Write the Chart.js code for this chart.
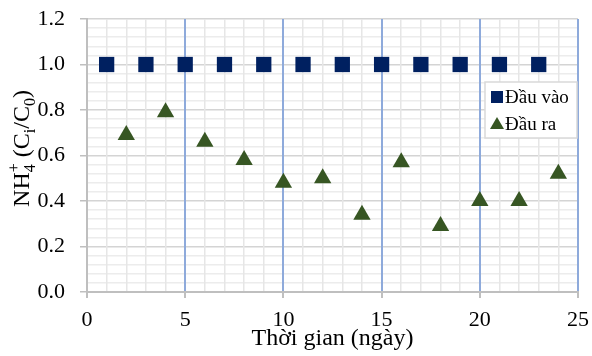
<!DOCTYPE html>
<html>
<head>
<meta charset="utf-8">
<script src="https://cdn.jsdelivr.net/npm/chart.js@4.4.1/dist/chart.umd.min.js"></script>
<style>
  html, body { margin: 0; padding: 0; background: #fff; }
  #wrap { width: 592px; height: 356px; }
</style>
</head>
<body>
<div id="wrap"><canvas id="chart"></canvas></div>
<script>
// NH4+ ratio over time, inlet vs outlet

const inputDays = [1, 3, 5, 7, 9, 11, 13, 15, 17, 19, 21, 23];
const inputValues = [1.0, 1.0, 1.0, 1.0, 1.0, 1.0, 1.0, 1.0, 1.0, 1.0, 1.0, 1.0];
const outputDays = [2, 4, 6, 8, 10, 12, 14, 16, 18, 20, 22, 24];
const outputValues = [0.69, 0.79, 0.66, 0.58, 0.48, 0.50, 0.34, 0.57, 0.29, 0.40, 0.40, 0.52];
const xTickLabels = [0, 5, 10, 15, 20, 25];
const yTickLabels = [0.0, 0.2, 0.4, 0.6, 0.8, 1.0, 1.2];
const seriesNames = ['Đầu vào', 'Đầu ra'];
const xTitle = 'Thời gian (ngày)';

const FONT = "'Liberation Serif', 'Times New Roman', serif";
const NAVY = '#002060';
const GREEN = '#375623';

const isMajorX = v => xTickLabels.includes(Math.round(v));
const isMajorY = v => yTickLabels.some(t => Math.abs(t - v) < 1e-6);

// y title with sub/superscripts: NH4+ (Ci/C0)
const yTitleParts = [
  { t: 'NH', size: 24 },
  { t: '4', size: 16, dy: 6, stackWith: '+' },
  { t: ' (C', size: 24 },
  { t: 'i', size: 16, dy: 6 },
  { t: '/C', size: 24 },
  { t: '0', size: 16, dy: 6 },
  { t: ')', size: 24 }
];

const yTitlePlugin = {
  id: 'yTitle',
  afterDraw(chart) {
    const ctx = chart.ctx;
    const area = chart.chartArea;
    ctx.save();
    ctx.fillStyle = '#000';
    ctx.textBaseline = 'alphabetic';
    ctx.textAlign = 'left';
    let total = 0;
    yTitleParts.forEach(p => {
      ctx.font = p.size + 'px ' + FONT;
      let w = ctx.measureText(p.t).width;
      if (p.stackWith) w = Math.max(w, ctx.measureText(p.stackWith).width);
      p.w = w;
      total += w;
    });
    ctx.translate(29, (area.top + area.bottom) / 2 - 7);
    ctx.rotate(-Math.PI / 2);
    let x = -total / 2;
    yTitleParts.forEach(p => {
      ctx.font = p.size + 'px ' + FONT;
      ctx.fillText(p.t, x, p.dy || 0);
      if (p.stackWith) ctx.fillText(p.stackWith, x, -10);
      x += p.w;
    });
    ctx.restore();
  }
};

const legendPlugin = {
  id: 'boxLegend',
  afterDraw(chart) {
    const ctx = chart.ctx;
    const area = chart.chartArea;
    const right = area.right - 1;
    const left = right - 92;
    const top = area.top + 63;
    const h = 56;
    ctx.save();
    ctx.fillStyle = '#fff';
    ctx.fillRect(left, top, right - left, h);
    ctx.strokeStyle = '#d9d9d9';
    ctx.lineWidth = 1.5;
    ctx.strokeRect(left, top, right - left, h);
    ctx.font = '19px ' + FONT;
    ctx.textBaseline = 'middle';
    ctx.textAlign = 'left';
    chart.data.datasets.forEach((ds, i) => {
      const cy = top + 15 + i * 27;
      const cx = left + 12;
      ctx.fillStyle = ds.backgroundColor;
      if (ds.pointStyle === 'rect') {
        ctx.fillRect(cx - 6, cy - 6, 12, 12);
      } else {
        ctx.beginPath();
        ctx.moveTo(cx, cy - 7);
        ctx.lineTo(cx + 7, cy + 5);
        ctx.lineTo(cx - 7, cy + 5);
        ctx.closePath();
        ctx.fill();
      }
      ctx.fillStyle = '#000';
      ctx.fillText(ds.label, cx + 8, cy + 1);
    });
    ctx.restore();
  }
};

const noScalePadding = s => {
  s.paddingTop = 0;
  s.paddingBottom = 0;
  s.paddingLeft = 0;
  s.paddingRight = 0;
};

new Chart(document.getElementById('chart'), {
  type: 'scatter',
  data: {
    datasets: [
      {
        label: seriesNames[0],
        data: inputDays.map((d, i) => ({ x: d, y: inputValues[i] })),
        pointStyle: 'rect',
        pointRadius: 10.8,
        pointHoverRadius: 10.8,
        backgroundColor: NAVY,
        borderColor: NAVY,
        borderWidth: 0
      },
      {
        label: seriesNames[1],
        data: outputDays.map((d, i) => ({ x: d, y: outputValues[i] })),
        pointStyle: 'triangle',
        pointRadius: 10,
        pointHoverRadius: 10,
        backgroundColor: GREEN,
        borderColor: GREEN,
        borderWidth: 0
      }
    ]
  },
  options: {
    responsive: true,
    maintainAspectRatio: false,
    animation: false,
    events: [],
    layout: { padding: { top: 19, right: 14, left: 0, bottom: 0 } },
    plugins: {
      legend: { display: false },
      tooltip: { enabled: false }
    },
    scales: {
      x: {
        type: 'linear',
        min: 0,
        max: 25,
        afterBuildTicks: s => {
          const t = [];
          for (let v = 0; v <= 25; v++) t.push({ value: v });
          s.ticks = t;
        },
        afterFit: s => { s.height = 64; noScalePadding(s); },
        ticks: {
          autoSkip: false,
          maxRotation: 0,
          padding: 9,
          color: '#000',
          font: { family: FONT, size: 22 },
          callback: v => (isMajorX(v) ? String(v) : '')
        },
        grid: {
          z: -1,
          color: c => (c.tick && c.tick.value === 0 ? '#bfbfbf' : (isMajorX(c.tick ? c.tick.value : 1) ? '#8eaadb' : '#e6e6e6')),
          lineWidth: c => (isMajorX(c.tick ? c.tick.value : 1) ? 2 : 1.5),
          tickLength: 6,
          tickColor: c => (isMajorX(c.tick ? c.tick.value : 1) ? '#bfbfbf' : 'rgba(0,0,0,0)')
        },
        border: { color: '#bfbfbf', width: 2 },
        title: {
          display: true,
          text: xTitle,
          color: '#000',
          font: { family: FONT, size: 24 },
          padding: { top: 0, bottom: 3 }
        }
      },
      y: {
        type: 'linear',
        min: 0,
        max: 1.2,
        afterBuildTicks: s => {
          const t = [];
          for (let i = 0; i <= 30; i++) t.push({ value: Math.round(i * 4) / 100 });
          s.ticks = t;
        },
        afterFit: s => { s.width = 87; noScalePadding(s); },
        ticks: {
          autoSkip: false,
          padding: 15,
          color: '#000',
          font: { family: FONT, size: 22 },
          callback: v => (isMajorY(v) ? v.toFixed(1) : '')
        },
        grid: {
          z: -2,
          color: c => (isMajorY(c.tick ? c.tick.value : 0.02) ? '#d4d4d4' : '#ececec'),
          lineWidth: 1.5,
          tickLength: 7,
          tickColor: c => (isMajorY(c.tick ? c.tick.value : 0.02) ? '#bfbfbf' : 'rgba(0,0,0,0)')
        },
        border: { color: '#bfbfbf', width: 2 }
      }
    }
  },
  plugins: [yTitlePlugin, legendPlugin]
});
</script>
</body>
</html>
